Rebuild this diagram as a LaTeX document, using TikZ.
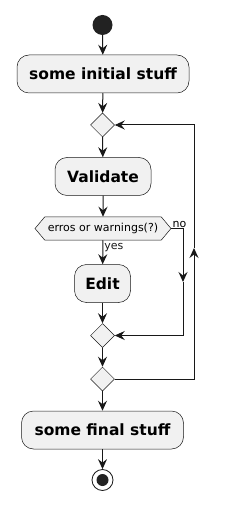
\documentclass[tikz,border=0pt]{standalone}
\usepackage{fontspec}
\setmainfont{DejaVu Sans}
\usetikzlibrary{arrows.meta, shapes.geometric, shapes.symbols}

\definecolor{actfill}{HTML}{F1F1F1}
\definecolor{actline}{HTML}{181818}
\definecolor{dotfill}{HTML}{222222}

\tikzset{
  action/.style={draw=actline, line width=0.5pt, fill=actfill, rounded corners=12pt,
    inner sep=0pt, minimum height=38pt, font=\bfseries\fontsize{15.5}{18}\selectfont},
  merge/.style={diamond, draw=actline, line width=0.5pt, fill=actfill, inner sep=0pt,
    minimum width=24pt, minimum height=24pt},
  check/.style={signal, signal to=east and west, signal pointer angle=100, draw=actline,
    line width=0.5pt, fill=actfill, inner sep=0pt, minimum width=136pt, minimum height=23pt,
    font=\fontsize{11}{13}\selectfont},
  flow/.style={actline, line width=1pt, -{Stealth[length=10pt, width=9pt, inset=3.5pt]}},
  branch/.style={font=\fontsize{11}{13}\selectfont, inner sep=1pt},
}

\begin{document}
\begin{tikzpicture}[x=1pt, y=-1pt]
    \useasboundingbox (0,0) rectangle (228,510);

    % Start and first action
    \node[circle, fill=dotfill, minimum size=20pt, inner sep=0pt] (start) at (102.5,25) {};
    \node[action, minimum width=172pt] (init) at (103,74) {some initial stuff};

    % Loop body
    \node[merge] (m1) at (102.5,125) {};
    \node[action, minimum width=96pt] (validate) at (103,176.5) {Validate};
    \node[check] (chk) at (103,228.5) {erros or warnings(?)};
    \node[action, minimum width=56pt] (edit) at (102.5,283.5) {Edit};
    \node[merge] (m2) at (102.5,335.5) {};
    \node[merge] (m3) at (102.5,379) {};

    % Final action and stop
    \node[action, minimum width=162pt] (final) at (102.5,430) {some final stuff};
    \node[circle, draw=actline, line width=0.8pt, fill=white, minimum size=21pt, inner sep=0pt] (stop) at (102.5,480) {};
    \node[circle, fill=dotfill, minimum size=12pt, inner sep=0pt] (stopdot) at (stop) {};

    % Mid-line arrow tips
    \coordinate (notip) at (183,282);
    \coordinate (looptip) at (194,248);

    % Main flow
    \draw[flow] (start) -- (init);
    \draw[flow] (init) -- (m1);
    \draw[flow] (m1) -- (validate);
    \draw[flow] (validate) -- (chk);
    \draw[flow] (chk) -- node[branch, right, pos=0.3] {yes} (edit);
    \draw[flow] (edit) -- (m2);
    \draw[flow] (m2) -- (m3);
    \draw[flow] (m3) -- (final);
    \draw[flow] (final) -- (stop);

    % No branch
    \draw[flow] (chk.east) -| (notip);
    \draw[flow] (notip) |- (m2.east);
    \node[branch, anchor=south west] at (chk.east) {no};

    % Repeat loop
    \draw[flow] (m3.east) -| (looptip);
    \draw[flow] (looptip) |- (m1.east);
\end{tikzpicture}
\end{document}
